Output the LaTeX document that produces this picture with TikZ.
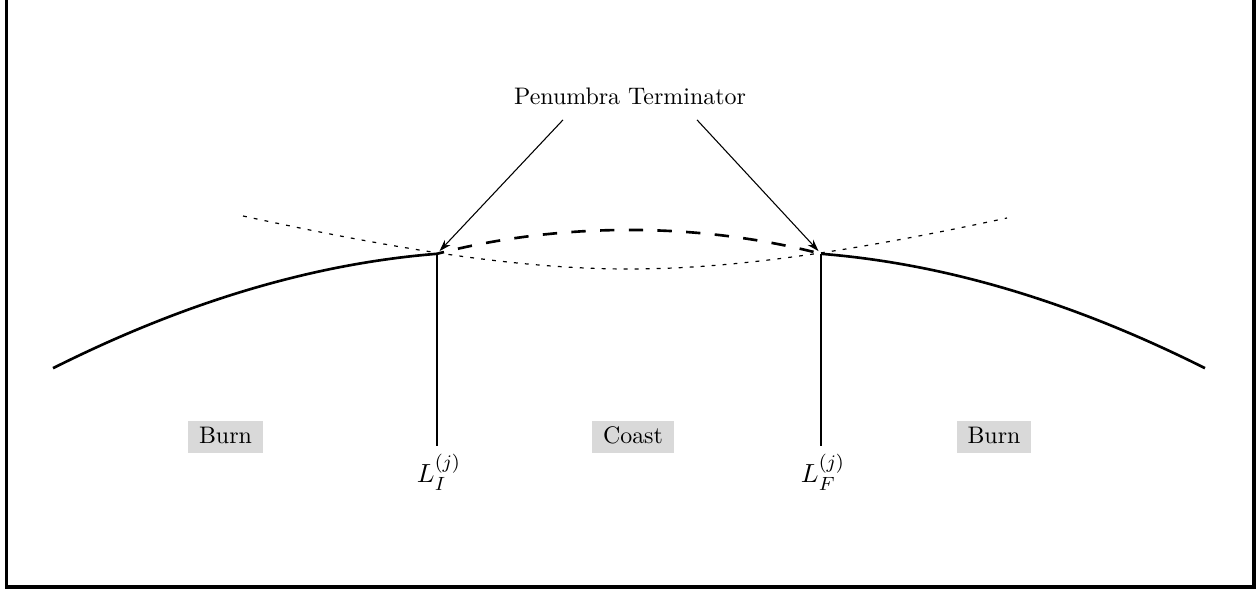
\documentclass[tikz,border=0pt]{standalone}
\usepackage{amsmath}
\usepackage{xcolor}
\usepackage{tikz}
\usetikzlibrary{arrows.meta,calc}
\definecolor{boxgray}{RGB}{217,217,217}

\begin{document}
\begin{tikzpicture}[x=0.0147cm,y=-0.0147cm,
  every node/.style={font=\normalsize},
  burnline/.style={line width=1.1pt},
  coastline/.style={line width=1.1pt,dash pattern=on 6pt off 6pt,dash phase=3pt},
  shadowline/.style={line width=0.5pt,dash pattern=on 1.6pt off 3pt},
  pointer/.style={line width=0.45pt,shorten >=1.5pt,-{Stealth[length=5pt,width=3.2pt]}},
  tick/.style={line width=0.9pt},
  endlabel/.style={anchor=north,font=\fontsize{11}{13}\selectfont},
  phase/.style={fill=boxgray,inner xsep=4.5pt,inner ysep=3pt,text height=1.5ex,text depth=.25ex}]
  \useasboundingbox (0,0) rectangle (1259,590);
  \clip (0,0) rectangle (1259,590);
  % frame, open at the top
  \draw[line width=1.3pt] (6.5,-30) -- (6.5,587) -- (1254,587) -- (1254,-30);
  % ends of the coast arc
  \coordinate (LI) at (437,253.8);
  \coordinate (LF) at (821,253.8);
  % terminator curves
  \draw[shadowline] (243,216) .. controls (400,250) and (520,269) .. (629,269)
                              .. controls (738,269) and (858,250) .. (1007,218);
  \draw[coastline] (LI) .. controls (560,222) and (698,222) .. (LF);
  \draw[burnline] (53,368.2) .. controls (181,304) and (309,264) .. (LI);
  \draw[burnline] (LF) .. controls (949,264) and (1077,304) .. (1205,368.2);
  % labels
  \node (term) at (630,96) {Penumbra Terminator};
  \draw[pointer] ($(term.south)+(-67,7)$) -- (LI);
  \draw[pointer] ($(term.south)+(67,7)$) -- (LF);
  \node[endlabel] (lI) at (439,446) {$L_I^{(j)}$};
  \node[endlabel] (lF) at (823,446) {$L_F^{(j)}$};
  \draw[tick] (LI) -- (LI |- lI.north);
  \draw[tick] (LF) -- (LF |- lF.north);
  \node[phase] (burnA) at (225.5,437) {Burn};
  \node[phase] (coast) at (633,437) {Coast};
  \node[phase] (burnB) at (994,437) {Burn};
\end{tikzpicture}
\end{document}
